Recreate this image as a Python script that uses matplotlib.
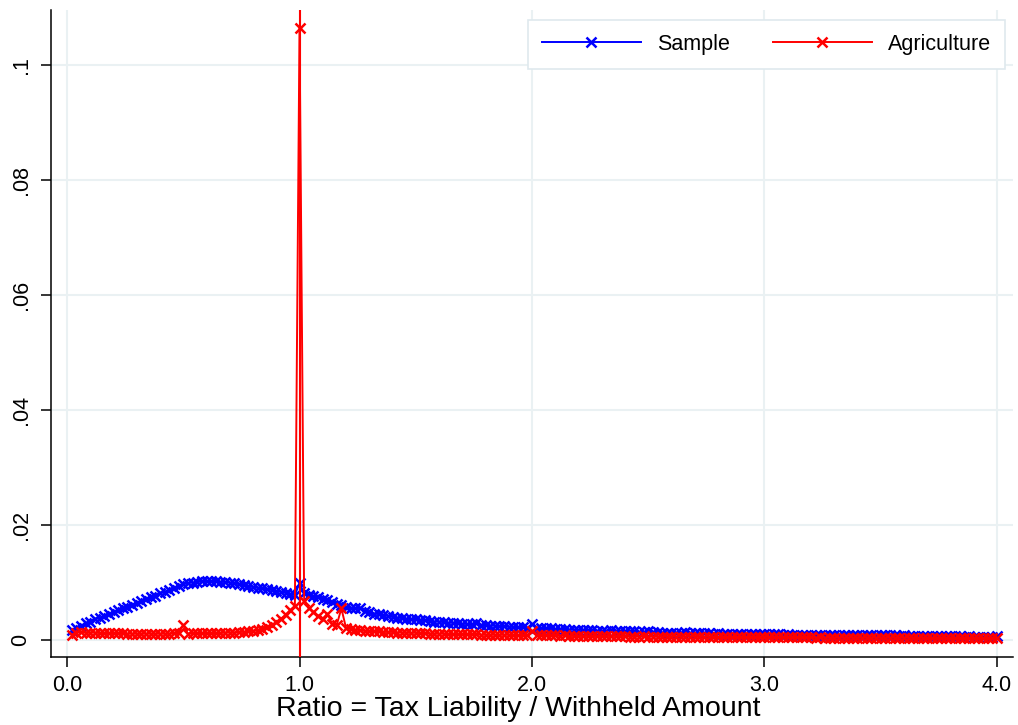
import numpy as np
import matplotlib
matplotlib.use("Agg")
import matplotlib.pyplot as plt

# ---- data ----
ratio_bins = np.round(np.arange(1, 201) * 0.02, 2)

sample = [
    .0017, .0021, .0025, .0029, .0032, .0036, .0039, .0042, .0045, .0048,   # 0.02-0.20
    .0052, .0055, .0058, .0061, .0064, .0068, .0071, .0074, .0077, .0081,   # 0.22-0.40
    .0084, .0087, .0090, .0094, .0097, .0099, .0100, .0101, .0102, .0102,   # 0.42-0.60
    .0102, .0102, .0101, .0101, .0100, .0099, .0097, .0095, .0094, .0092,   # 0.62-0.80
    .0091, .0090, .0088, .0087, .0085, .0084, .0082, .0080, .0078, .0099,   # 0.82-1.00
    .0081, .0078, .0076, .0074, .0072, .0069, .0066, .0063, .0060, .0058,   # 1.02-1.20
    .0055, .0055, .0056, .0050, .0048, .0046, .0045, .0043, .0042, .0040,   # 1.22-1.40
    .0039, .0038, .0037, .0036, .0036, .0035, .0034, .0033, .0032, .0032,   # 1.42-1.60
    .0031, .0030, .0030, .0029, .0028, .0028, .0027, .0030, .0026, .0026,   # 1.62-1.80
    .0025, .0025, .0024, .0024, .0023, .0023, .0022, .0022, .0021, .0027,   # 1.82-2.00
    .0021, .0020, .0020, .0020, .0019, .0019, .0019, .0018, .0018, .0018,   # 2.02-2.20
    .0017, .0017, .0017, .0016, .0016, .0016, .0018, .0016, .0015, .0015,   # 2.22-2.40
    .0015, .0015, .0014, .0014, .0015, .0014, .0014, .0013, .0013, .0013,   # 2.42-2.60
    .0013, .0013, .0014, .0012, .0012, .0012, .0012, .0012, .0011, .0012,   # 2.62-2.80
    .0011, .0011, .0011, .0011, .0011, .0010, .0010, .0010, .0010, .0011,   # 2.82-3.00
    .0010, .0010, .0010, .0009, .0010, .0009, .0009, .0009, .0009, .0009,   # 3.02-3.20
    .0009, .0009, .0009, .0009, .0008, .0009, .0008, .0008, .0008, .0008,   # 3.22-3.40
    .0008, .0008, .0008, .0008, .0008, .0008, .0008, .0008, .0007, .0008,   # 3.42-3.60
    .0007, .0007, .0007, .0007, .0007, .0007, .0007, .0007, .0007, .0007,   # 3.62-3.80
    .0007, .0007, .0006, .0007, .0006, .0006, .0006, .0006, .0006, .0007,   # 3.82-4.00
]

agriculture = [
    .0009, .0013, .0014, .0013, .0013, .0013, .0012, .0012, .0012, .0012,   # 0.02-0.20
    .0012, .0012, .0011, .0011, .0011, .0011, .0011, .0011, .0011, .0011,   # 0.22-0.40
    .0011, .0011, .0012, .0012, .0026, .0011, .0012, .0012, .0012, .0012,   # 0.42-0.60
    .0012, .0012, .0012, .0013, .0013, .0013, .0014, .0014, .0015, .0016,   # 0.62-0.80
    .0017, .0019, .0022, .0026, .0031, .0037, .0044, .0052, .0059, .1065,   # 0.82-1.00
    .0067, .0056, .0049, .0042, .0037, .0046, .0028, .0026, .0055, .0021,   # 1.02-1.20
    .0019, .0018, .0017, .0016, .0016, .0015, .0015, .0014, .0014, .0014,   # 1.22-1.40
    .0013, .0013, .0013, .0012, .0013, .0012, .0012, .0011, .0011, .0011,   # 1.42-1.60
    .0011, .0010, .0010, .0010, .0010, .0010, .0010, .0011, .0009, .0009,   # 1.62-1.80
    .0009, .0009, .0009, .0009, .0009, .0008, .0008, .0008, .0008, .0016,   # 1.82-2.00
    .0008, .0008, .0008, .0008, .0008, .0007, .0008, .0007, .0007, .0007,   # 2.02-2.20
    .0007, .0007, .0007, .0007, .0007, .0007, .0007, .0007, .0007, .0007,   # 2.22-2.40
    .0006, .0006, .0006, .0007, .0006, .0006, .0006, .0006, .0006, .0006,   # 2.42-2.60
    .0006, .0006, .0006, .0006, .0006, .0006, .0005, .0006, .0005, .0005,   # 2.62-2.80
    .0005, .0005, .0005, .0005, .0005, .0005, .0005, .0005, .0005, .0006,   # 2.82-3.00
    .0005, .0005, .0005, .0005, .0005, .0005, .0005, .0005, .0005, .0005,   # 3.02-3.20
    .0004, .0005, .0004, .0004, .0004, .0004, .0004, .0004, .0004, .0004,   # 3.22-3.40
    .0004, .0004, .0004, .0004, .0004, .0004, .0004, .0004, .0004, .0004,   # 3.42-3.60
    .0004, .0004, .0003, .0004, .0003, .0003, .0003, .0004, .0003, .0003,   # 3.62-3.80
    .0003, .0003, .0003, .0003, .0003, .0003, .0003, .0003, .0003, .0003,   # 3.82-4.00
]

x_ticks = [0, 1, 2, 3, 4]
x_ticklabels = ["0.0", "1.0", "2.0", "3.0", "4.0"]
y_ticks = [0, 0.02, 0.04, 0.06, 0.08, 0.10]
y_ticklabels = ["0", ".02", ".04", ".06", ".08", ".1"]
series_labels = ["Sample", "Agriculture"]
x_label = "Ratio = Tax Liability / Withheld Amount"
ref_line = 1.0

assert len(sample) == 200 and len(agriculture) == 200

# ---- plot ----
plt.rcParams['font.family'] = ['Liberation Sans', 'DejaVu Sans']
fig = plt.figure(figsize=(10.18, 7.25), dpi=100)
ax = fig.add_axes([51/1018, 68/725, 962/1018, 647/725])

grid_c = '#eaf1f3'
for t in x_ticks:
    ax.axvline(t, color=grid_c, lw=1.5, zorder=0)
for t in y_ticks:
    ax.axhline(t, color=grid_c, lw=1.5, zorder=0)

ax.plot(ratio_bins, sample, color='#0000ff', lw=1.4, marker='x', ms=7.5,
        mew=1.8, label=series_labels[0], zorder=3)
ax.plot(ratio_bins, agriculture, color='#ff0000', lw=1.4, marker='x', ms=7.5,
        mew=1.8, label=series_labels[1], zorder=4)
ax.axvline(ref_line, color='#ff0000', lw=1.5, zorder=4)

ax.set_xlim(-0.069, 4.069)
ax.set_ylim(-0.00296, 0.1096)
ax.set_xticks(x_ticks)
ax.set_xticklabels(x_ticklabels)
ax.set_yticks(y_ticks)
ax.set_yticklabels(y_ticklabels, rotation=90, va='center')
ax.tick_params(axis='both', direction='out', length=7, width=1.1,
               labelsize=15.5, color='black')
ax.tick_params(axis='y', pad=7)
ax.tick_params(axis='x', pad=6)
ax.set_xlabel(x_label, fontsize=20.5)
ax.xaxis.set_label_coords((518.5 - 51) / 962, -(716 - 657) / 647, transform=ax.transAxes)
ax.xaxis.label.set_va('baseline')

for s in ['top', 'right']:
    ax.spines[s].set_visible(False)
for s in ['left', 'bottom']:
    ax.spines[s].set_linewidth(1.1)
    ax.spines[s].set_color('black')

leg = ax.legend(loc='upper right', bbox_to_anchor=((1005-51)/962, (657-20)/647),
                borderaxespad=0, ncol=2,
                fontsize=15.5, numpoints=1, handlelength=4.6, handletextpad=0.75,
                columnspacing=2.0, borderpad=0.65, frameon=True, fancybox=False,
                edgecolor='#dfe9ee', framealpha=1)
leg.get_frame().set_linewidth(1.2)

fig.savefig('out.png', dpi=100)
